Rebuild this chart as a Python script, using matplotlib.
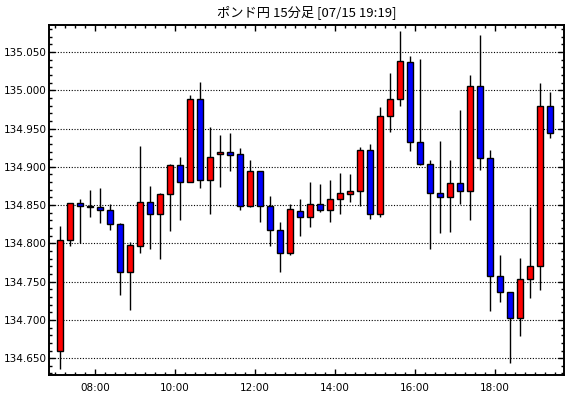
import matplotlib
matplotlib.use("Agg")
import matplotlib.pyplot as plt
from matplotlib.ticker import MultipleLocator, FormatStrFormatter, FixedLocator

# 15 minute bars, 07:00 .. 19:15
times = ["07:00", "07:15", "07:30", "07:45", "08:00", "08:15", "08:30", "08:45",
         "09:00", "09:15", "09:30", "09:45", "10:00", "10:15", "10:30", "10:45",
         "11:00", "11:15", "11:30", "11:45", "12:00", "12:15", "12:30", "12:45",
         "13:00", "13:15", "13:30", "13:45", "14:00", "14:15", "14:30", "14:45",
         "15:00", "15:15", "15:30", "15:45", "16:00", "16:15", "16:30", "16:45",
         "17:00", "17:15", "17:30", "17:45", "18:00", "18:15", "18:30", "18:45",
         "19:00", "19:15"]

opens = [134.660, 134.805, 134.853, 134.849, 134.847, 134.843, 134.825, 134.763,
         134.797, 134.854, 134.838, 134.865, 134.902, 134.880, 134.989, 134.883,
         134.917, 134.919, 134.917, 134.849, 134.894, 134.849, 134.818, 134.788,
         134.842, 134.834, 134.851, 134.844, 134.858, 134.865, 134.869, 134.922,
         134.839, 134.966, 134.988, 135.037, 134.932, 134.904, 134.866, 134.860,
         134.879, 134.868, 135.006, 134.912, 134.758, 134.737, 134.702, 134.754,
         134.771, 134.979]
highs = [134.823, 134.853, 134.858, 134.870, 134.872, 134.852, 134.827, 134.802,
         134.927, 134.875, 134.866, 134.904, 134.913, 134.994, 135.011, 134.952,
         134.941, 134.944, 134.925, 134.909, 134.895, 134.862, 134.828, 134.852,
         134.858, 134.880, 134.878, 134.883, 134.892, 134.890, 134.926, 134.930,
         134.978, 135.023, 135.078, 135.045, 135.041, 134.909, 134.934, 134.909,
         134.974, 135.020, 135.072, 134.922, 134.785, 134.737, 134.781, 134.848,
         135.009, 134.998]
lows = [134.636, 134.797, 134.800, 134.835, 134.826, 134.817, 134.732, 134.713,
        134.788, 134.792, 134.780, 134.816, 134.831, 134.880, 134.872, 134.838,
        134.874, 134.895, 134.844, 134.847, 134.828, 134.797, 134.762, 134.785,
        134.810, 134.822, 134.841, 134.828, 134.838, 134.854, 134.849, 134.832,
        134.835, 134.945, 134.980, 134.921, 134.903, 134.792, 134.813, 134.815,
        134.852, 134.831, 134.896, 134.711, 134.724, 134.644, 134.679, 134.728,
        134.739, 134.938]
closes = [134.805, 134.853, 134.849, 134.847, 134.843, 134.825, 134.763, 134.798,
          134.854, 134.838, 134.865, 134.902, 134.880, 134.989, 134.883, 134.913,
          134.919, 134.916, 134.849, 134.894, 134.849, 134.818, 134.788, 134.845,
          134.834, 134.851, 134.844, 134.858, 134.866, 134.869, 134.922, 134.839,
          134.966, 134.989, 135.038, 134.932, 134.904, 134.866, 134.860, 134.879,
          134.868, 135.006, 134.912, 134.758, 134.737, 134.702, 134.754, 134.771,
          134.979, 134.944]

title = "ポンド円 15分足 [07/15 19:19]"
hour_ticks = [8, 10, 12, 14, 16, 18]
hour_labels = ["08:00", "10:00", "12:00", "14:00", "16:00", "18:00"]

W, H = 570, 398
fig = plt.figure(figsize=(W / 100, H / 100), dpi=100)
left, right, top, bottom = 49.3, 564.3, 24.5, 375
ax = fig.add_axes([left / W, 1 - bottom / H, (right - left) / W, (bottom - top) / H])

# bar centre is the middle of its 15 minute slot, in hours
xs = [int(t[:2]) + int(t[3:]) / 60 + 0.125 for t in times]

for x, o, h, l, c in zip(xs, opens, highs, lows, closes):
    col = "#ff0000" if c >= o else "#0000ff"
    ax.vlines(x, l, h, color="black", lw=1.0, zorder=2)
    ax.bar(x, max(abs(c - o), 0.0015), bottom=min(o, c), width=0.16,
           color=col, edgecolor="black", linewidth=1.0, zorder=3)

ax.set_xlim(6.86, 19.73)
ax.set_ylim(134.628, 135.086)

ax.xaxis.set_major_locator(FixedLocator(hour_ticks))
ax.set_xticklabels(hour_labels)
ax.xaxis.set_minor_locator(MultipleLocator(0.25))
ax.yaxis.set_major_locator(MultipleLocator(0.05))
ax.yaxis.set_minor_locator(MultipleLocator(0.01))
ax.yaxis.set_major_formatter(FormatStrFormatter("%.3f"))

ax.tick_params(which="both", direction="in", top=True, right=True,
               labelsize=7.5, colors="black", width=1)
ax.tick_params(which="major", length=4, pad=6)
ax.tick_params(which="minor", length=2)
ax.tick_params(axis="y", which="major", pad=2)

ax.yaxis.grid(True, linestyle=(0, (1, 1.5)), color="black", lw=0.8)
ax.set_axisbelow(True)
for s in ax.spines.values():
    s.set_linewidth(1.4)

fig.text((left + right) / 2 / W, 1 - 12 / H, title, ha="center", va="center",
         fontsize=9.5, family=["Noto Sans CJK JP", "DejaVu Sans"])

fig.savefig("out.png", dpi=100)
